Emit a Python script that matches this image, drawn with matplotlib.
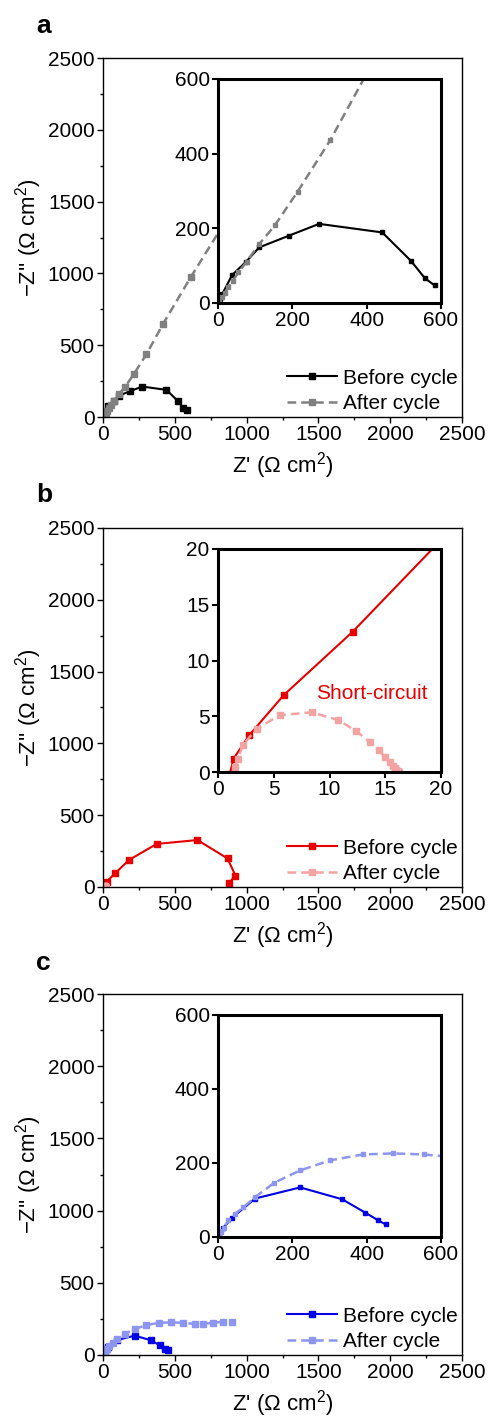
import matplotlib
matplotlib.use('Agg')
import matplotlib.pyplot as plt
from matplotlib.ticker import MultipleLocator

plt.rcParams['font.family'] = ['Liberation Sans', 'DejaVu Sans']
plt.rcParams['mathtext.fontset'] = 'custom'
plt.rcParams['mathtext.rm'] = 'Liberation Sans'
plt.rcParams['mathtext.it'] = 'Liberation Sans:italic'
plt.rcParams['mathtext.bf'] = 'Liberation Sans:bold'

# panel a (black / gray)
a_before_x = [0, 5, 12, 38, 75, 111, 190, 272, 442, 519, 557, 583]
a_before_y = [0, 12, 25, 75, 110, 149, 180, 212, 189, 113, 66, 47]
a_after_x = [0, 4, 10, 18, 28, 40, 55, 77, 111, 153, 214, 302, 420, 613, 1000]
a_after_y = [0, 6, 15, 27, 42, 60, 82, 111, 158, 208, 298, 436, 651, 977, 1600]

# panel b (red / pink)
b_before_x = [0, 5, 25, 84, 181, 374, 658, 867, 922, 877]
b_before_y = [0, 5, 37, 95, 188, 300, 327, 199, 80, 27]
b_inset_before_x = [1.05, 1.4, 2.8, 5.9, 12.1, 25.0]
b_inset_before_y = [-0.2, 1.2, 3.3, 6.9, 12.6, 26.0]
b_after_x = [1.52, 1.76, 2.27, 3.47, 5.56, 8.4, 10.8, 12.4, 13.6, 14.4, 15.0, 15.4,
             15.7, 15.9, 16.0, 16.1, 16.2]
b_after_y = [0.45, 1.2, 2.45, 3.9, 5.1, 5.35, 4.66, 3.66, 2.7, 1.95, 1.35, 0.9,
             0.55, 0.35, 0.15, 0.05, 0.0]

# panel c (blue / light blue)
c_before_x = [0, 4, 13, 38, 100, 221, 334, 396, 431, 451]
c_before_y = [0, 8, 23, 52, 104, 134, 102, 66, 45, 34]
c_after_x = [0, 3, 8, 15, 28, 45, 68, 100, 152, 221, 301, 389, 472, 555, 641,
             699, 768, 838, 896]
c_after_y = [0, 5, 13, 25, 45, 62, 80, 108, 147, 180, 207, 223, 226, 223, 215,
             215, 224, 230, 230]

W, H = 488, 1420
fig = plt.figure(figsize=(W / 100, H / 100), dpi=100)

FS = 15
LFS = 16


def px_axes(left, top, width, height):
    return fig.add_axes([left / W, (H - top - height) / H, width / W, height / H])


def style_main(ax):
    ax.set_xlim(0, 2500)
    ax.set_ylim(0, 2500)
    ax.xaxis.set_major_locator(MultipleLocator(500))
    ax.yaxis.set_major_locator(MultipleLocator(500))
    ax.xaxis.set_minor_locator(MultipleLocator(250))
    ax.yaxis.set_minor_locator(MultipleLocator(250))
    ax.tick_params(which='major', direction='out', length=4, width=1,
                   labelsize=FS, pad=2)
    ax.tick_params(which='minor', direction='out', length=2.5, width=1)
    for s in ax.spines.values():
        s.set_linewidth(1.0)
    ax.set_xlabel("Z' (\u03a9 cm$^2$)", fontsize=LFS, labelpad=4)
    ax.set_ylabel("\u2212Z'' (\u03a9 cm$^2$)", fontsize=LFS, labelpad=3)


def style_inset(ax, lim, step):
    ax.set_xlim(0, lim)
    ax.set_ylim(0, lim)
    ax.xaxis.set_major_locator(MultipleLocator(step))
    ax.yaxis.set_major_locator(MultipleLocator(step))
    ax.tick_params(which='major', direction='out', length=4, width=1.5,
                   labelsize=FS, pad=2)
    for s in ax.spines.values():
        s.set_linewidth(2.2)


def legend(ax):
    ax.legend(loc='lower right', frameon=False, fontsize=FS, handlelength=2.4,
              handletextpad=0.3, labelspacing=0.3, borderaxespad=0.0,
              borderpad=0.2)


dash = (0, (3.5, 2))

# ---- panel a ----
ax = px_axes(103, 58, 359, 359)
ax.plot(a_before_x, a_before_y, '-s', color='black', lw=1.5, ms=5,
        label='Before cycle')
ax.plot(a_after_x, a_after_y, linestyle=dash, marker='s', color='#808080',
        lw=1.8, ms=5, label='After cycle')
style_main(ax)
legend(ax)
fig.text(36 / W, 1 - 33 / H, 'a', fontsize=19, fontweight='bold')

ins = px_axes(218, 79, 223, 224)
ins.plot(a_before_x, a_before_y, '-s', color='black', lw=1.5, ms=3)
ins.plot(a_after_x, a_after_y, linestyle=dash, marker='s', color='#808080',
         lw=1.8, ms=3)
style_inset(ins, 600, 200)

# ---- panel b ----
ax = px_axes(103, 528, 359, 359)
ax.plot(b_before_x, b_before_y, '-s', color='#e60000', lw=1.5, ms=5,
        label='Before cycle')
ax.plot(b_after_x, b_after_y, linestyle=dash, marker='s', color='#f4a3a3',
        lw=1.8, ms=5, label='After cycle')
style_main(ax)
legend(ax)
fig.text(36 / W, 1 - 502 / H, 'b', fontsize=19, fontweight='bold')

ins = px_axes(218, 549, 223, 223)
ins.plot(b_inset_before_x, b_inset_before_y, '-s', color='#e60000', lw=1.5, ms=5)
ins.plot(b_after_x, b_after_y, linestyle=dash, marker='s', color='#f4a3a3',
         lw=1.8, ms=5)
style_inset(ins, 20, 5)
ins.text(13.8, 7.0, 'Short-circuit', color='#e60000', fontsize=FS,
         ha='center', va='center')

# ---- panel c ----
ax = px_axes(103, 994, 359, 361)
ax.plot(c_before_x, c_before_y, '-s', color='#0000e6', lw=1.5, ms=5,
        label='Before cycle')
ax.plot(c_after_x, c_after_y, linestyle=dash, marker='s', color='#8c96f0',
        lw=1.8, ms=5, label='After cycle')
style_main(ax)
legend(ax)
fig.text(36 / W, 1 - 970 / H, 'c', fontsize=19, fontweight='bold')

ins = px_axes(218, 1015, 223, 222)
ins.plot(c_before_x, c_before_y, '-s', color='#0000e6', lw=1.5, ms=3)
ins.plot(c_after_x, c_after_y, linestyle=dash, marker='s', color='#8c96f0',
         lw=1.8, ms=3)
style_inset(ins, 600, 200)

fig.savefig('out.png', dpi=100)
plt.close(fig)
